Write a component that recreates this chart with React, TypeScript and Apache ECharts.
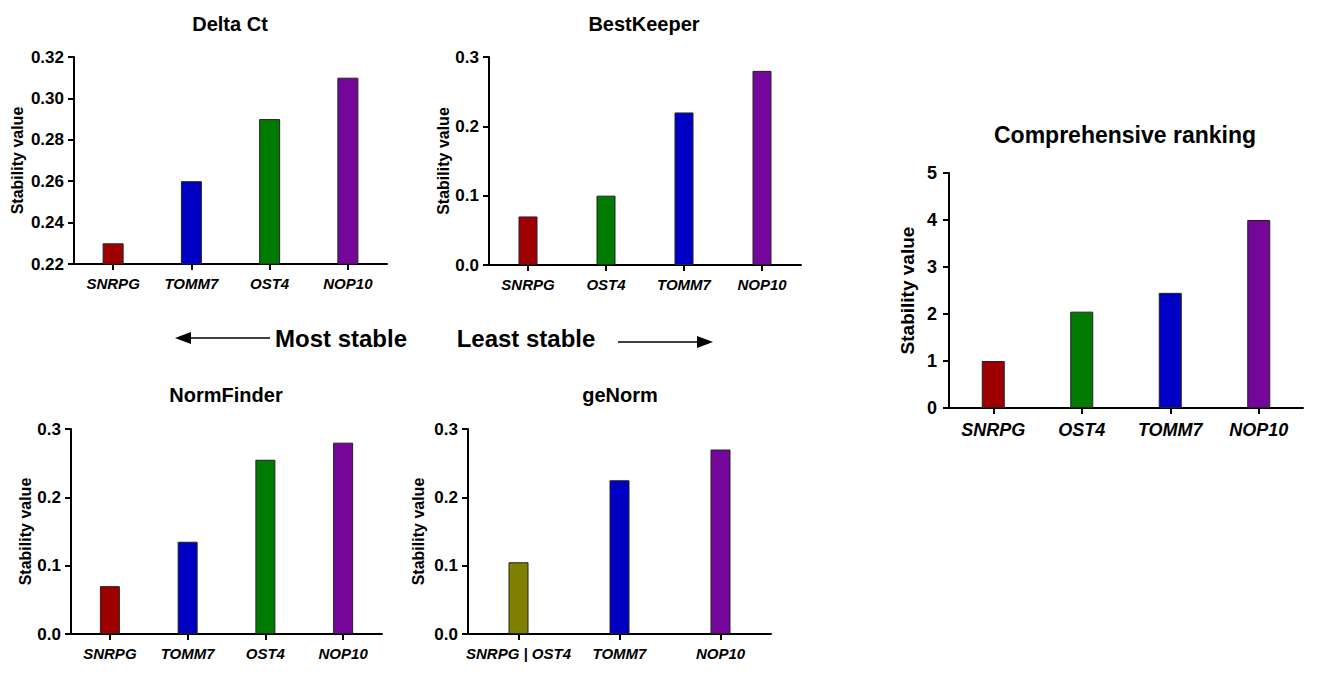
import React, { useEffect, useRef } from "react";
import * as echarts from "echarts";

const deltaCats = ["SNRPG", "TOMM7", "OST4", "NOP10"];
const deltaVals = [0.23, 0.26, 0.29, 0.31];
const bestCats = ["SNRPG", "OST4", "TOMM7", "NOP10"];
const bestVals = [0.07, 0.1, 0.22, 0.28];
const compCats = ["SNRPG", "OST4", "TOMM7", "NOP10"];
const compVals = [1, 2.05, 2.45, 4];
const normCats = ["SNRPG", "TOMM7", "OST4", "NOP10"];
const normVals = [0.07, 0.135, 0.255, 0.28];
const genCats = ["SNRPG | OST4", "TOMM7", "NOP10"];
const genVals = [0.105, 0.225, 0.27];

const geneColors: Record<string, string> = {
  SNRPG: "#9e0000",
  TOMM7: "#0000c4",
  OST4: "#007a00",
  NOP10: "#74079a",
  "SNRPG | OST4": "#7f7f00",
};

const FONT = "Liberation Sans, Arial, sans-serif";

type Panel = {
  title: string;
  cats: string[];
  vals: number[];
  grid: { left: number; top: number; width: number; height: number };
  min: number;
  max: number;
  interval: number;
  digits: number;
  nameGap: number;
  barWidth: number;
  big?: boolean;
  titlePos: [number, number];
};

const panels: Panel[] = [
  { title: "Delta Ct", cats: deltaCats, vals: deltaVals, grid: { left: 74, top: 57, width: 313, height: 207 }, min: 0.22, max: 0.32, interval: 0.02, digits: 2, nameGap: 49, barWidth: 21, titlePos: [230, 24] },
  { title: "BestKeeper", cats: bestCats, vals: bestVals, grid: { left: 489, top: 57, width: 312, height: 208 }, min: 0, max: 0.3, interval: 0.1, digits: 1, nameGap: 38, barWidth: 19, titlePos: [644, 24] },
  { title: "Comprehensive ranking", cats: compCats, vals: compVals, grid: { left: 949, top: 173, width: 354, height: 235 }, min: 0, max: 5, interval: 1, digits: 0, nameGap: 32, barWidth: 23, big: true, titlePos: [1125, 135] },
  { title: "NormFinder", cats: normCats, vals: normVals, grid: { left: 71, top: 429, width: 311, height: 205 }, min: 0, max: 0.3, interval: 0.1, digits: 1, nameGap: 38, barWidth: 20, titlePos: [226, 395] },
  { title: "geNorm", cats: genCats, vals: genVals, grid: { left: 468, top: 429, width: 303, height: 205 }, min: 0, max: 0.3, interval: 0.1, digits: 1, nameGap: 42, barWidth: 20, titlePos: [620, 395] },
];

export default function App() {
  const ref = useRef<HTMLDivElement>(null);
  useEffect(() => {
    if (!ref.current) return;
    const chart = echarts.init(ref.current, undefined, { renderer: "svg" });
    const axisLine = { show: true, lineStyle: { color: "#000", width: 2 } };
    const option: any = {
      animation: false,
      backgroundColor: "#fff",
      grid: panels.map((p) => ({ ...p.grid, containLabel: false })),
      xAxis: panels.map((p, i) => ({
        type: "category",
        gridIndex: i,
        data: p.cats,
        axisLine,
        axisTick: { show: true, alignWithLabel: true, length: 6, lineStyle: { color: "#000", width: 2 } },
        axisLabel: {
          color: "#000",
          fontFamily: FONT,
          fontWeight: "bold",
          fontStyle: "italic",
          fontSize: p.big ? 18 : 15,
          margin: p.big ? 13 : 12,
          interval: 0,
        },
        splitLine: { show: false },
      })),
      yAxis: panels.map((p, i) => ({
        type: "value",
        gridIndex: i,
        min: p.min,
        max: p.max,
        interval: p.interval,
        name: "Stability value",
        nameLocation: "middle",
        nameRotate: 90,
        nameGap: p.nameGap,
        nameTextStyle: { color: "#000", fontFamily: FONT, fontWeight: "bold", fontSize: p.big ? 19 : 16 },
        axisLine,
        axisTick: { show: true, length: 6, lineStyle: { color: "#000", width: 2 } },
        axisLabel: {
          color: "#000",
          fontFamily: FONT,
          fontWeight: "bold",
          fontSize: p.big ? 18 : 17,
          margin: p.big ? 12 : 10,
          formatter: (v: number) => v.toFixed(p.digits),
        },
        splitLine: { show: false },
      })),
      series: panels.map((p, i) => ({
        type: "bar",
        xAxisIndex: i,
        yAxisIndex: i,
        barWidth: p.barWidth,
        clip: true,
        data: p.vals.map((v, j) => ({
          value: v,
          itemStyle: { color: geneColors[p.cats[j]], borderColor: "#222", borderWidth: 1 },
        })),
      })),
      graphic: [
        ...panels.map((p) => ({
          type: "text",
          x: p.titlePos[0],
          y: p.titlePos[1],
          style: {
            text: p.title,
            fill: "#000",
            font: `bold ${p.big ? 23 : 20}px ${FONT}`,
            textAlign: "center",
            textVerticalAlign: "middle",
          },
        })),
        {
          type: "text",
          x: 341,
          y: 338,
          style: { text: "Most stable", fill: "#000", font: `bold 24px ${FONT}`, textAlign: "center", textVerticalAlign: "middle" },
        },
        {
          type: "text",
          x: 526,
          y: 338,
          style: { text: "Least stable", fill: "#000", font: `bold 24px ${FONT}`, textAlign: "center", textVerticalAlign: "middle" },
        },
        { type: "line", shape: { x1: 188, y1: 338, x2: 270, y2: 338 }, style: { stroke: "#000", lineWidth: 1.5 } },
        { type: "polygon", shape: { points: [[175, 338], [191, 332], [191, 344]] }, style: { fill: "#000" } },
        { type: "line", shape: { x1: 618, y1: 342, x2: 700, y2: 342 }, style: { stroke: "#000", lineWidth: 1.5 } },
        { type: "polygon", shape: { points: [[713, 342], [697, 336], [697, 348]] }, style: { fill: "#000" } },
      ],
    };
    chart.setOption(option);
    return () => chart.dispose();
  }, []);
  return (
    <div
      ref={ref}
      style={{ position: "fixed", left: 0, top: 0, width: 1319, height: 676, background: "#fff" }}
    />
  );
}
